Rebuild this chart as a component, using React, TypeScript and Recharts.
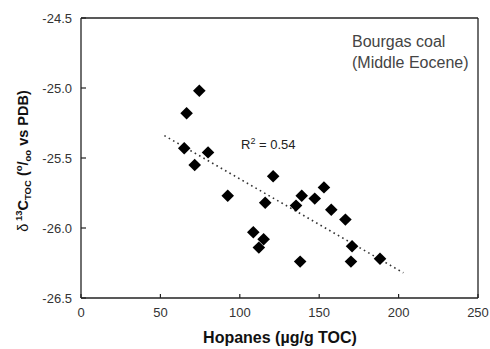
import React from 'react';
import { ScatterChart, Scatter, XAxis, YAxis, ReferenceLine } from 'recharts';

const hopanes = [74.5, 66.5, 65, 80, 71.6, 92.4, 121, 116, 108.5, 115, 112, 139, 135.4, 147.2, 153, 157.6, 166.5, 138, 170.7, 170, 188.3];
const d13C = [-25.02, -25.18, -25.43, -25.46, -25.55, -25.77, -25.63, -25.82, -26.03, -26.08, -26.14, -25.77, -25.84, -25.79, -25.71, -25.87, -25.94, -26.24, -26.13, -26.24, -26.22];

const xTicks = [0, 50, 100, 150, 200, 250];
const yTicks = [-24.5, -25.0, -25.5, -26.0, -26.5];

// linear fit endpoints, as drawn
const trendX = [52.5, 203];
const trendY = [-25.34, -26.32];

const points = hopanes.map((h, i) => ({ x: h, y: d13C[i] }));

const FONT = '"Liberation Sans", Arial, Helvetica, sans-serif';
const INK = '#222';

const Diamond = (props: any) => {
  const { cx, cy } = props;
  return (
    <path
      d={`M${cx},${cy - 6.2}L${cx + 6.3},${cy}L${cx},${cy + 6.2}L${cx - 6.3},${cy}Z`}
      fill="#000"
    />
  );
};

const XTick = (props: any) => {
  const { x, y, payload } = props;
  return (
    <g>
      <line x1={x} x2={x} y1={y} y2={y - 4} stroke={INK} strokeWidth={1.2} />
      <text x={x} y={y + 19} textAnchor="middle" fontSize={13} fill="#333" fontFamily={FONT}>
        {payload.value}
      </text>
    </g>
  );
};

const YTick = (props: any) => {
  const { x, y, payload } = props;
  return (
    <g>
      <line x1={x} x2={x + 5} y1={y} y2={y} stroke={INK} strokeWidth={1.2} />
      <text x={x - 9} y={y + 4.5} textAnchor="end" fontSize={13} fill="#333" fontFamily={FONT}>
        {payload.value.toFixed(1)}
      </text>
    </g>
  );
};

export default function App() {
  return (
    <div style={{ position: 'absolute', left: 0, top: 0, background: '#fff' }}>
      <ScatterChart width={490} height={349} margin={{ top: 18, right: 12, bottom: 21, left: 21 }}>
        <XAxis
          type="number"
          dataKey="x"
          domain={[0, 250]}
          ticks={xTicks}
          height={30}
          tickSize={0}
          tickMargin={0}
          tickLine={false}
          tick={<XTick />}
          axisLine={{ stroke: INK, strokeWidth: 1.3 }}
        />
        <YAxis
          type="number"
          dataKey="y"
          domain={[-26.5, -24.5]}
          ticks={yTicks}
          width={60}
          tickSize={0}
          tickMargin={0}
          tickLine={false}
          tick={<YTick />}
          axisLine={{ stroke: INK, strokeWidth: 1.3 }}
        />
        <ReferenceLine y={-24.5} stroke={INK} strokeWidth={1.3} />
        <ReferenceLine x={250} stroke={INK} strokeWidth={1.3} />
        <ReferenceLine
          segment={[
            { x: trendX[0], y: trendY[0] },
            { x: trendX[1], y: trendY[1] },
          ]}
          stroke="#333"
          strokeWidth={1.6}
          strokeDasharray="1.6 3.4"
        />
        <Scatter data={points} shape={<Diamond />} isAnimationActive={false} />
        <text x={241} y={149} fontSize={13} fill="#222" fontFamily={FONT}>
          R<tspan dy={-5} fontSize={9}>2</tspan>
          <tspan dy={5}> = 0.54</tspan>
        </text>
        <text x={352} y={47} fontSize={16} fill="#444" fontFamily={FONT}>
          Bourgas coal
        </text>
        <text x={352} y={68} fontSize={16} fill="#444" fontFamily={FONT}>
          (Middle Eocene)
        </text>
        <text x={280} y={343} textAnchor="middle" fontSize={16} fontWeight="bold" fill="#111" fontFamily={FONT}>
          Hopanes (µg/g TOC)
        </text>
        <text
          transform="translate(28,161) rotate(-90)"
          textAnchor="middle"
          fontSize={14.5}
          fontWeight="bold"
          fill="#111"
          fontFamily={FONT}
        >
          <tspan fontWeight="normal">δ</tspan>
          <tspan dy={-6} fontSize={9.5}> 13</tspan>
          <tspan dy={6}>C</tspan>
          <tspan dy={3} fontSize={9.5}>TOC</tspan>
          <tspan dy={-3}> (</tspan>
          <tspan dy={-6} fontSize={9.5}>o</tspan>
          <tspan dy={6}>/</tspan>
          <tspan dy={3} fontSize={9.5}>oo</tspan>
          <tspan dy={-3}> vs PDB)</tspan>
        </text>
      </ScatterChart>
    </div>
  );
}
